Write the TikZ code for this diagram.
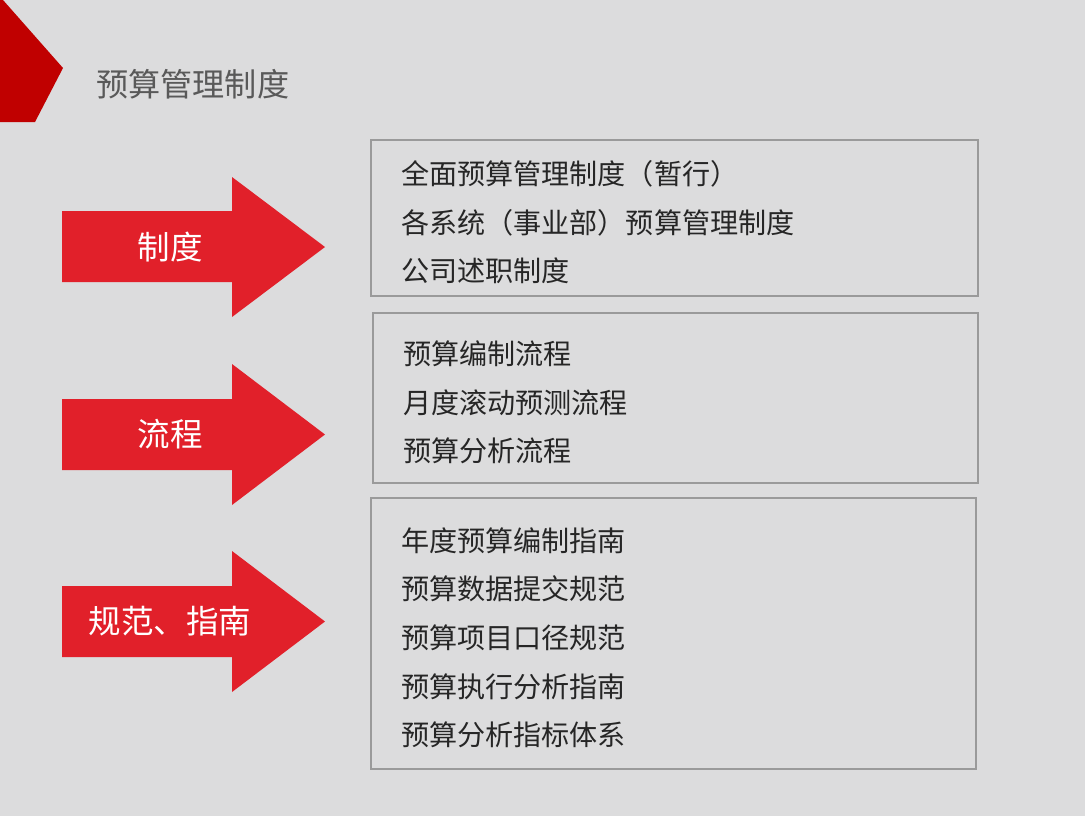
\documentclass[tikz,border=0pt]{standalone}
\usepackage{fontspec}
\newfontfamily\cjk{Noto Sans CJK SC}
\usetikzlibrary{positioning}
\definecolor{bggray}{HTML}{DCDCDD}
\definecolor{cornerred}{HTML}{C00000}
\definecolor{arrowred}{HTML}{E1202A}
\definecolor{boxline}{HTML}{9A9A9A}
\definecolor{titlegray}{HTML}{595959}
\definecolor{itemtext}{HTML}{262626}
\newcommand\topgap{\rule{0pt}{18.5pt}}

\begin{document}
\begin{tikzpicture}[x=0.02cm, y=-0.02cm,
  redarrow/.style={fill=arrowred},
  tag/.style={font=\cjk\fontsize{18.5}{22}\selectfont, text=white, inner sep=0pt},
  listbox/.style={draw=boxline, line width=0.7pt, inner xsep=0.6cm, align=left,
    font=\cjk\fontsize{16}{27.7}\selectfont, text=itemtext}
]
% page and corner mark
\fill[bggray] (0,0) rectangle (1085,816);
\useasboundingbox (0,0) rectangle (1085,816);
\fill[cornerred] (0,0) -- (3,0) -- (63,68) -- (35,122) -- (0,122) -- cycle;
\node[anchor=west, inner sep=0pt, text=titlegray, font=\cjk\fontsize{18.3}{22}\selectfont] (title) at (96,84) {预算管理制度};

% arrows
\fill[redarrow] (62,211) -- (232,211) -- (232,177) -- (325,247) -- (232,317) -- (232,282) -- (62,282) -- cycle;
\fill[redarrow] (62,399) -- (232,399) -- (232,364) -- (325,434.5) -- (232,505) -- (232,470) -- (62,470) -- cycle;
\fill[redarrow] (62,586) -- (232,586) -- (232,551) -- (325,621.5) -- (232,692) -- (232,657) -- (62,657) -- cycle;
\node[tag] (zhidu) at (170,247) {制度};
\node[tag] (liucheng) at (170,434.5) {流程};
\node[tag] (guifan) at (170,621.5) {规范、指南};

% lists
\node[listbox, minimum width=12.14cm, minimum height=3.12cm, text width=10.94cm] (rules) at (674.5,218)
  {\topgap 全面预算管理制度（暂行）\\各系统（事业部）预算管理制度\\公司述职制度};
\node[listbox, minimum width=12.10cm, minimum height=3.40cm, text width=10.90cm] (flows) at (675.5,398)
  {\topgap 预算编制流程\\月度滚动预测流程\\预算分析流程};
\node[listbox, minimum width=12.10cm, minimum height=5.42cm, text width=10.90cm] (guides) at (673.5,633.5)
  {\topgap 年度预算编制指南\\预算数据提交规范\\预算项目口径规范\\预算执行分析指南\\预算分析指标体系};
\end{tikzpicture}
\end{document}
